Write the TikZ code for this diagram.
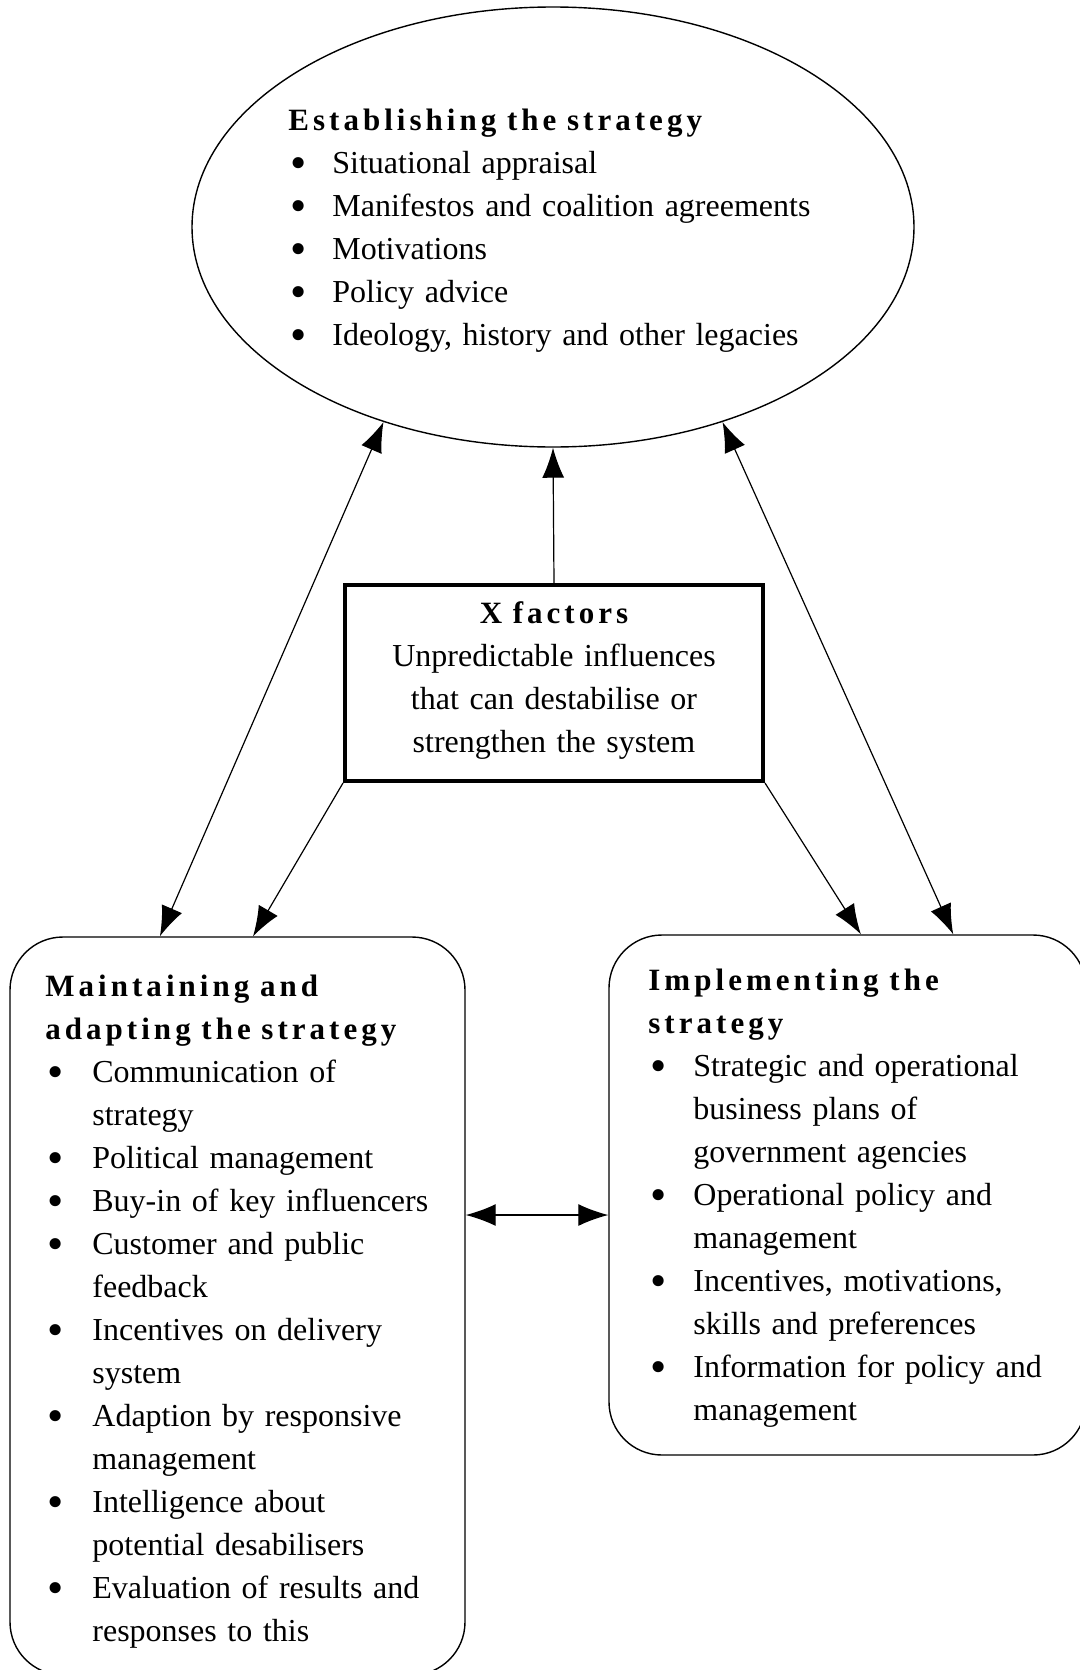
\documentclass[tikz,border=0pt]{standalone}
\usepackage{fontspec}
\setmainfont{Liberation Serif}
\newfontfamily\spacedbf[LetterSpace=13]{Liberation Serif Bold}
\usetikzlibrary{shapes.geometric,arrows.meta,calc}

\newcommand{\hd}[1]{{\spacedbf\fontsize{15.5}{21.5}\selectfont #1}}
\newcommand{\itm}[1]{\par\hangindent=#1\hangafter=1\noindent\makebox[#1][l]{\hspace{1pt}\raisebox{-2.6pt}{\scalebox{1.45}{•}}}}

\tikzset{
  oval/.style={ellipse, draw, line width=.7pt, inner sep=0pt},
  panel/.style={rectangle, draw, line width=.7pt, rounded corners=26.5pt, inner sep=0pt},
  factorbox/.style={rectangle, draw, line width=2pt, inner sep=0pt},
  bodytext/.style={inner sep=0pt, anchor=base west, text width=#1, align=left,
    font=\fontsize{16}{21.5}\selectfont},
  tip/.style={line width=.6pt, -{Latex[length=15pt,width=11pt]}},
  twoway/.style={line width=.6pt, {Latex[length=15pt,width=11pt]}-{Latex[length=15pt,width=11pt]}}
}

\begin{document}
\begin{tikzpicture}[x=.5pt,y=-.5pt]
\useasboundingbox (0,0) rectangle (1080,1670);

\node[oval, minimum width=361pt, minimum height=220pt] (est) at (553,227) {};
\node[factorbox, minimum width=209pt, minimum height=98pt] (xf) at (554,683) {};
\node[panel, minimum width=227.5pt, minimum height=369pt] (maint) at (237.5,1306) {};
\node[panel, minimum width=238.5pt, minimum height=260pt] (impl) at (847.5,1195) {};

\node[bodytext=270pt] (est-text) at (288,130) {\hd{Establishing the strategy}
  \itm{22pt}Situational appraisal
  \itm{22pt}Manifestos and coalition agreements
  \itm{22pt}Motivations
  \itm{22pt}Policy advice
  \itm{22pt}Ideology, history and other legacies\par};

\node[bodytext=210pt, align=center, anchor=base] (xf-text) at (554,623) {\hd{X factors}\\
  Unpredictable influences\\that can destabilise or\\strengthen the system};

\node[bodytext=225pt] (maint-text) at (45,996) {\hd{Maintaining and}\\\hd{adapting the strategy}
  \itm{23.5pt}Communication of\newline strategy
  \itm{23.5pt}Political management
  \itm{23.5pt}Buy-in of key influencers
  \itm{23.5pt}Customer and public\newline feedback
  \itm{23.5pt}Incentives on delivery\newline system
  \itm{23.5pt}Adaption by responsive\newline management
  \itm{23.5pt}Intelligence about\newline potential desabilisers
  \itm{23.5pt}Evaluation of results and\newline responses to this\par};

\node[bodytext=225pt] (impl-text) at (648,990) {\hd{Implementing the}\\\hd{strategy}
  \itm{22.5pt}Strategic and operational\newline business plans of\newline government agencies
  \itm{22.5pt}Operational policy and\newline management
  \itm{22.5pt}Incentives, motivations,\newline skills and preferences
  \itm{22.5pt}Information for policy and\newline management\par};

\draw[tip] (xf.north) -- (est.south);
\draw[twoway] (est.229) -- ($(maint.north west)!.33!(maint.north east)$);
\draw[tip] (xf.south west) -- ($(maint.north west)!.534!(maint.north east)$);
\draw[tip] (xf.south east) -- ($(impl.north west)!.528!(impl.north east)$);
\draw[twoway] (est.311.7) -- ($(impl.north west)!.721!(impl.north east)$);
\draw[twoway] ([yshift=-10pt]impl.west -| maint.east) -- ([yshift=-10pt]impl.west);
\end{tikzpicture}
\end{document}
